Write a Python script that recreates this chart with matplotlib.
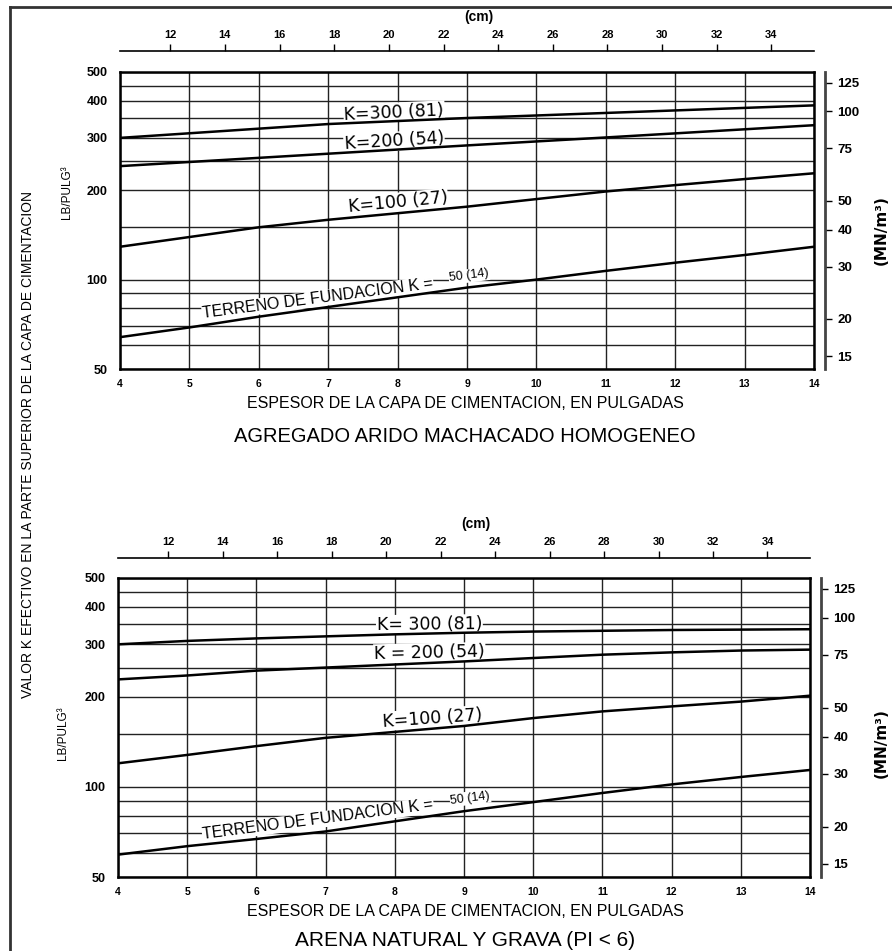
# Effective k value on top of the subbase vs subbase thickness
# (two panels: crushed aggregate / natural sand and gravel)

import matplotlib.pyplot as plt
from matplotlib.lines import Line2D
from matplotlib.ticker import FixedLocator, FixedFormatter, NullFormatter, NullLocator

plt.rcParams['font.family'] = ['Liberation Sans', 'DejaVu Sans']

# --- data (k in lb/in^3, thickness in inches) ---
x_ticks = [4, 5, 6, 7, 8, 9, 10, 11, 12, 13, 14]
y_major = [50, 100, 200, 300, 400, 500]
y_minor = [60, 70, 80, 90, 150, 250, 350, 450]
cm_ticks = [12, 14, 16, 18, 20, 22, 24, 26, 28, 30, 32, 34]
mn_ticks = [15, 20, 30, 40, 50, 75, 100, 125]

# AGREGADO ARIDO MACHACADO HOMOGENEO
top_k300_x = [4, 7, 9, 11, 14]
top_k300_y = [300, 334, 350, 364, 386]
top_k200_x = [4, 9, 11, 14]
top_k200_y = [241, 283, 301, 331]
top_k100_x = [4, 6, 7, 9, 11, 12, 13, 14]
top_k100_y = [129, 150, 159, 176, 198, 208, 218, 228]
top_k50_x = [4, 5, 6, 9, 10, 11, 12, 13, 14]
top_k50_y = [64, 69, 75, 94, 100, 107, 114, 121, 129]

# ARENA NATURAL Y GRAVA
bot_k300_x = [4, 5, 6, 7, 8, 9, 10, 11, 12, 13, 14]
bot_k300_y = [300, 308, 314, 319, 324, 328, 331, 333, 335, 336, 337]
bot_k200_x = [4, 5, 6, 9, 10, 11, 12, 13, 14]
bot_k200_y = [229, 236, 245, 263, 270, 277, 282, 286, 288]
bot_k100_x = [4, 5, 6, 7, 9, 10, 11, 12, 13, 14]
bot_k100_y = [120, 128, 137, 146, 160, 170, 179, 186, 193, 202]
bot_k50_x = [4, 5, 6, 7, 9, 10, 11, 12, 13, 14]
bot_k50_y = [59.4, 63.4, 67, 71, 83, 89, 95.5, 102, 108, 114]

PCI_TO_MN = 0.2714
W, H = 892, 951

fig = plt.figure(figsize=(W / 100, H / 100), dpi=100)


def px_axes(l, t, r, b):
    return fig.add_axes([l / W, 1 - b / H, (r - l) / W, (b - t) / H])


def draw_panel(ax, curves, labels, cm_offset):
    ax.set_yscale('log')
    ax.set_xlim(4, 14)
    ax.set_ylim(50, 500)
    ax.yaxis.set_major_locator(FixedLocator(y_major))
    ax.yaxis.set_major_formatter(FixedFormatter([str(v) for v in y_major]))
    ax.yaxis.set_minor_locator(FixedLocator(y_minor))
    ax.yaxis.set_minor_formatter(NullFormatter())
    ax.set_xticks(x_ticks)
    ax.grid(True, which='both', color='#222222', lw=1.0)
    ax.tick_params(which='both', length=0)
    ax.tick_params(axis='x', pad=7, labelsize=7.5)
    ax.tick_params(axis='y', pad=9, labelsize=9)
    for lbl in ax.get_xticklabels() + ax.get_yticklabels():
        lbl.set_fontweight('bold')
    for sp in ax.spines.values():
        sp.set_linewidth(1.8)

    # curves sit above the white label boxes so only gridlines get broken
    for xs, ys in curves:
        ax.plot(xs, ys, color='black', lw=1.8, zorder=5)

    for x, y, s, rot, fs, fam in labels:
        ax.text(x, y, s, rotation=rot, fontsize=fs, family=fam,
                ha='center', va='center', rotation_mode='anchor', zorder=4,
                bbox=dict(fc='white', ec='none', pad=0.5))

    # cm scale above the plot
    sec = ax.secondary_xaxis(1 + cm_offset,
                             functions=(lambda v: v * 2.54, lambda v: v / 2.54))
    sec.set_xticks(cm_ticks)
    sec.tick_params(direction='out', length=5, width=1, labelsize=8, pad=3)
    for lbl in sec.get_xticklabels():
        lbl.set_fontweight('bold')
    for sp in sec.spines.values():
        sp.set_linewidth(1.2)

    # MN/m3 scale on the right
    ax2 = ax.twinx()
    ax2.set_yscale('log')
    ax2.set_ylim(50 * PCI_TO_MN, 500 * PCI_TO_MN)
    ax2.yaxis.set_major_locator(FixedLocator(mn_ticks))
    ax2.yaxis.set_major_formatter(FixedFormatter([str(v) for v in mn_ticks]))
    ax2.yaxis.set_minor_locator(NullLocator())
    ax2.spines['right'].set_position(('outward', 8))
    ax2.spines['right'].set_linewidth(2.0)
    ax2.spines['right'].set_color('#444444')
    for side in ['left', 'top', 'bottom']:
        ax2.spines[side].set_visible(False)
    ax2.tick_params(axis='y', direction='out', length=5, width=1, labelsize=9.5, pad=4)
    for lbl in ax2.get_yticklabels():
        lbl.set_fontweight('bold')

    ax.text(0.517, 1 + cm_offset + 0.115, '(cm)', transform=ax.transAxes,
            ha='center', va='center', fontsize=10, fontweight='bold')


DV = ['DejaVu Sans']
LS = ['Liberation Sans', 'DejaVu Sans']

ax_top = px_axes(120, 72, 814, 369)
draw_panel(ax_top,
           [(top_k300_x, top_k300_y), (top_k200_x, top_k200_y),
            (top_k100_x, top_k100_y), (top_k50_x, top_k50_y)],
           [(7.95, 366, 'K=300 (81)', 2.6, 12.5, DV),
            (7.95, 292, 'K=200 (54)', 3.4, 12.5, DV),
            (8.0, 182, 'K=100 (27)', 5.5, 12.5, DV),
            (6.85, 86.2, 'TERRENO DE FUNDACION K =', 7.4, 11.5, LS),
            (9.03, 103, '50 (14)', 7.4, 9, LS)],
           21 / 297)

ax_bot = px_axes(118, 578, 810, 877)
draw_panel(ax_bot,
           [(bot_k300_x, bot_k300_y), (bot_k200_x, bot_k200_y),
            (bot_k100_x, bot_k100_y), (bot_k50_x, bot_k50_y)],
           [(8.5, 350, 'K= 300 (81)', 0.5, 12.5, DV),
            (8.5, 281, 'K = 200 (54)', 1.2, 12.5, DV),
            (8.55, 170, 'K=100 (27)', 4, 12.5, DV),
            (6.89, 77.6, 'TERRENO DE FUNDACION K =', 7.4, 11.5, LS),
            (9.09, 91.8, '50 (14)', 7.4, 9, LS)],
           20 / 299)

# axis titles and panel titles
fig.text(465 / W, 1 - 403 / H, 'ESPESOR DE LA CAPA DE CIMENTACION, EN PULGADAS',
         ha='center', va='center', fontsize=11.5)
fig.text(465 / W, 1 - 437 / H, 'AGREGADO ARIDO MACHACADO HOMOGENEO',
         ha='center', va='center', fontsize=14.5)
fig.text(465 / W, 1 - 912 / H, 'ESPESOR DE LA CAPA DE CIMENTACION, EN PULGADAS',
         ha='center', va='center', fontsize=11.5)
fig.text(465 / W, 1 - 940 / H, 'ARENA NATURAL Y GRAVA (PI < 6)',
         ha='center', va='center', fontsize=15)

fig.text(28 / W, 1 - 444 / H,
         'VALOR K EFECTIVO EN LA PARTE SUPERIOR DE LA CAPA DE CIMENTACION',
         rotation=90, ha='center', va='center', fontsize=10)
fig.text(67 / W, 1 - 192 / H, 'LB/PULG³', rotation=90, ha='center', va='center', fontsize=8.5)
fig.text(63 / W, 1 - 733 / H, 'LB/PULG³', rotation=90, ha='center', va='center', fontsize=8.5)
fig.text(881 / W, 1 - 230 / H, '(MN/m³)', rotation=90, ha='center', va='center',
         fontsize=11, fontweight='bold', family=DV)
fig.text(881 / W, 1 - 743 / H, '(MN/m³)', rotation=90, ha='center', va='center',
         fontsize=11, fontweight='bold', family=DV)

# page frame (left and top edges only are visible)
fig.add_artist(Line2D([10 / W, 10 / W], [0, 1 - 7 / H], color='#333333', lw=2,
                      transform=fig.transFigure))
fig.add_artist(Line2D([10 / W, 1], [1 - 7 / H, 1 - 7 / H], color='#333333', lw=2,
                      transform=fig.transFigure))

fig.savefig('out.png', dpi=100)
